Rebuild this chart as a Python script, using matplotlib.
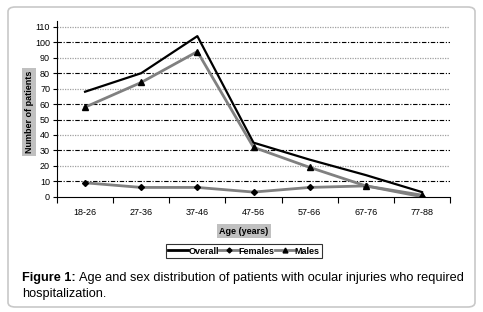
import matplotlib
matplotlib.use("Agg")
import matplotlib.pyplot as plt
from matplotlib.patches import FancyBboxPatch
from matplotlib.lines import Line2D

plt.rcParams['font.family'] = ['Liberation Sans', 'DejaVu Sans']

# Data
age_groups = ["18-26", "27-36", "37-46", "47-56", "57-66", "67-76", "77-88"]
overall = [68, 80, 104, 35, 24, 14, 3]
females = [9, 6, 6, 3, 6, 7, 0]
males = [58, 74, 94, 32, 19, 7, 1]
y_ticks = list(range(0, 111, 10))

W, H = 483, 312
fig = plt.figure(figsize=(W / 100, H / 100), dpi=100)

# rounded outer frame
frame = FancyBboxPatch((8 / W, 5 / H), 467 / W, 300 / H,
                       boxstyle="round,pad=0,rounding_size=0.015",
                       transform=fig.transFigure, fill=False,
                       edgecolor="#c8c8c8", linewidth=1.2)
fig.patches.append(frame)

ax = fig.add_axes([57 / W, 1 - 196.7 / H, 393 / W, 176 / H])
x = list(range(len(age_groups)))

# gridlines: dotted grey and dash-dot black alternate
dotted = [20, 40, 70, 90, 110]
for v in y_ticks[1:]:
    if v in dotted:
        ax.axhline(v, color="#a0a0a0", linestyle=(0, (1, 1)), linewidth=0.9, zorder=0)
    else:
        ax.axhline(v, color="black", linestyle=(0, (4, 1.5, 1, 1.5)), linewidth=0.8, zorder=0)

ax.plot(x, overall, color="black", linewidth=1.6, zorder=3, label="Overall")
ax.plot(x, females, color="#808080", linewidth=2, marker="D", markersize=3,
        markerfacecolor="black", markeredgecolor="black", zorder=2, label="Females")
ax.plot(x, males, color="#808080", linewidth=2, marker="^", markersize=4.5,
        markerfacecolor="black", markeredgecolor="black", zorder=2, label="Males")

ax.set_xlim(-0.5, len(age_groups) - 0.5)
ax.set_ylim(0, 114)
ax.set_yticks(y_ticks)
ax.tick_params(axis="y", labelsize=6.5, length=3, width=0.8, pad=2)
ax.set_xticks([i - 0.5 for i in range(len(age_groups) + 1)])
ax.set_xticklabels([])
ax.set_xticks(x, minor=True)
ax.set_xticklabels(age_groups, minor=True)
ax.tick_params(axis="x", which="major", length=4, width=0.8, direction="out")
ax.tick_params(axis="x", which="minor", length=0, labelsize=6.5, pad=8)

for s in ["top", "right"]:
    ax.spines[s].set_visible(False)
ax.spines["left"].set_linewidth(0.8)
ax.spines["bottom"].set_linewidth(0.8)

grey_box = dict(facecolor="#c0c0c0", edgecolor="none", boxstyle="square,pad=0.3")
fig.text(29 / W, 1 - 112 / H, "Number of patients", rotation=90, fontsize=6.5,
         fontweight="bold", ha="center", va="center", bbox=grey_box)
fig.text(244 / W, 1 - 231 / H, "Age (years)", fontsize=6.5, fontweight="bold",
         ha="center", va="center", bbox=grey_box)

handles = [
    Line2D([], [], color="black", linewidth=2),
    Line2D([], [], color="#808080", linewidth=2, marker="D", markersize=2.5,
           markerfacecolor="black", markeredgecolor="black"),
    Line2D([], [], color="#808080", linewidth=2, marker="^", markersize=3.5,
           markerfacecolor="black", markeredgecolor="black"),
]
leg = fig.legend(handles, ["Overall", "Females", "Males"], loc="center",
                 bbox_to_anchor=(244 / W, 1 - 251 / H), ncol=3, fontsize=6.5,
                 frameon=True, fancybox=False, handlelength=2.2, handletextpad=0,
                 columnspacing=0, borderpad=0.3, borderaxespad=0)
leg.get_frame().set_edgecolor("black")
leg.get_frame().set_linewidth(0.8)
for t in leg.get_texts():
    t.set_fontweight("bold")

# caption: bold label then normal text right after it
cap_size = 9.2
lab = fig.text(22 / W, 1 - 278 / H, "Figure 1:", fontsize=cap_size, fontweight="bold",
               ha="left", va="center")
renderer = fig.canvas.get_renderer()
bb = lab.get_window_extent(renderer)
fig.text((bb.x1 + 3) / W, 1 - 278 / H,
         "Age and sex distribution of patients with ocular injuries who required",
         fontsize=cap_size, ha="left", va="center")
fig.text(22 / W, 1 - 294 / H, "hospitalization.", fontsize=cap_size,
         ha="left", va="center")

fig.savefig("out.png", dpi=100)
